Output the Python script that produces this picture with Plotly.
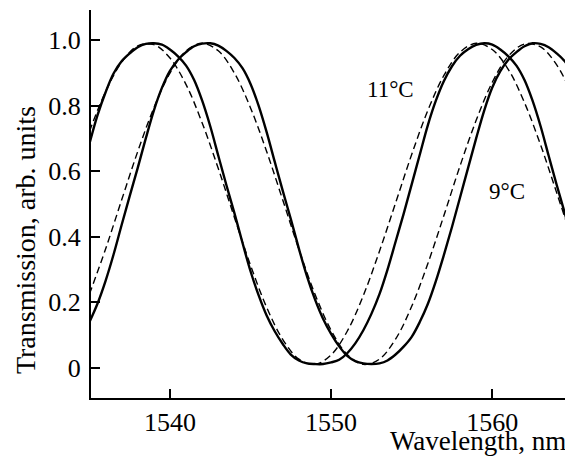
import plotly.graph_objects as go

# Measured (solid) curves, 0.5 nm grid
wl_meas = [1535.0 + 0.5 * i for i in range(61)]
meas_11C = [0.683, 0.77, 0.84, 0.898, 0.935, 0.959, 0.978, 0.988, 0.99, 0.986,
            0.971, 0.95, 0.922, 0.878, 0.815, 0.737, 0.647, 0.558, 0.472, 0.382,
            0.295, 0.222, 0.16, 0.112, 0.073, 0.041, 0.023, 0.014, 0.012, 0.012,
            0.017, 0.025, 0.045, 0.075, 0.115, 0.165, 0.225, 0.30, 0.385, 0.47,
            0.56, 0.65, 0.74, 0.815, 0.875, 0.92, 0.952, 0.972, 0.985, 0.99,
            0.986, 0.971, 0.95, 0.922, 0.878, 0.815, 0.737, 0.647, 0.558, 0.472,
            0.382]
meas_9C = [0.14, 0.196, 0.265, 0.346, 0.436, 0.524, 0.61, 0.70, 0.785, 0.854,
           0.906, 0.94, 0.963, 0.981, 0.989, 0.99, 0.983, 0.967, 0.945, 0.914,
           0.866, 0.80, 0.719, 0.629, 0.54, 0.454, 0.364, 0.28, 0.209, 0.15,
           0.104, 0.066, 0.037, 0.021, 0.014, 0.012, 0.014, 0.023, 0.041, 0.065,
           0.095, 0.14, 0.195, 0.265, 0.345, 0.43, 0.52, 0.61, 0.70, 0.785,
           0.855, 0.905, 0.94, 0.963, 0.981, 0.99, 0.988, 0.978, 0.959, 0.935,
           0.898]

# Fitted (dashed) curves, 1 nm grid
wl_fit = [1535 + i for i in range(31)]
fit_11C = [0.721, 0.842, 0.932, 0.982, 0.986, 0.945, 0.864, 0.747, 0.608, 0.459,
           0.313, 0.185, 0.087, 0.027, 0.011, 0.040, 0.112, 0.221, 0.356, 0.503,
           0.651, 0.785, 0.892, 0.963, 0.990, 0.971, 0.910, 0.809, 0.680, 0.534,
           0.385]
fit_9C = [0.225, 0.362, 0.512, 0.660, 0.793, 0.899, 0.967, 0.990, 0.967, 0.899,
          0.793, 0.660, 0.512, 0.362, 0.225, 0.115, 0.041, 0.011, 0.027, 0.088,
          0.188, 0.318, 0.465, 0.616, 0.755, 0.871, 0.951, 0.988, 0.979, 0.924,
          0.829]

x_ticks = [1540, 1550, 1560]
y_ticks = [0, 0.2, 0.4, 0.6, 0.8, 1.0]
y_ticktext = ["0", "0.2", "0.4", "0.6", "0.8", "1.0"]

labels = ["11°C", "9°C"]
label_x = [1553.7, 1560.9]
label_y = [0.85, 0.537]

FONT = "Liberation Serif, Times New Roman, serif"

fig = go.Figure()
for y in (meas_11C, meas_9C):
    fig.add_trace(go.Scatter(x=wl_meas, y=y, mode="lines", line_shape="spline",
                             line=dict(color="black", width=2.4), showlegend=False))
for y in (fit_11C, fit_9C):
    fig.add_trace(go.Scatter(x=wl_fit, y=y, mode="lines", line_shape="spline",
                             line=dict(color="black", width=1.4, dash="7px,4px"),
                             showlegend=False))

for t, lx, ly in zip(labels, label_x, label_y):
    fig.add_annotation(x=lx, y=ly, text=t, showarrow=False,
                       font=dict(family=FONT, size=23, color="black"))

# axis titles
fig.add_annotation(xref="paper", yref="paper", x=1, y=0, xanchor="right",
                   yanchor="top", yshift=-26, text="Wavelength, nm",
                   showarrow=False, font=dict(family=FONT, size=27, color="black"))
fig.add_annotation(xref="paper", yref="paper", x=0, y=0.407, xanchor="center",
                   yanchor="middle", xshift=-66, textangle=-90,
                   text="Transmission, arb. units", showarrow=False,
                   font=dict(family=FONT, size=28, color="black"))

fig.update_layout(
    width=565, height=451,
    margin=dict(l=83, r=5, t=2, b=61),
    paper_bgcolor="white", plot_bgcolor="white",
    font=dict(family=FONT, size=26, color="black"),
)
fig.update_xaxes(range=[1535.1, 1564.7], tickvals=x_ticks, ticks="inside",
                 ticklen=9, tickwidth=2, tickcolor="black", showline=True,
                 linecolor="black", linewidth=2, showgrid=False, zeroline=False,
                 tickfont=dict(family=FONT, size=26, color="black"))
fig.update_yaxes(range=[-0.0915, 1.0915], tickvals=y_ticks, ticktext=y_ticktext,
                 ticks="inside", ticklen=9, tickwidth=2, tickcolor="black",
                 showline=True, linecolor="black", linewidth=2, showgrid=False,
                 zeroline=False, ticklabelstandoff=3,
                 tickfont=dict(family=FONT, size=26, color="black"))

fig.write_html("out.html")
